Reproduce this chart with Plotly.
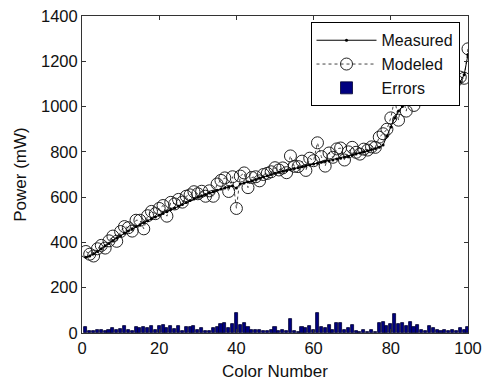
import plotly.graph_objects as go

color_number = list(range(1, 101))

measured = [
    335, 340, 350, 360, 372, 385, 395, 408, 420, 430,
    440, 450, 460, 470, 478, 488, 496, 505, 512, 520,
    528, 536, 545, 552, 560, 568, 576, 585, 592, 600,
    606, 612, 618, 624, 630, 636, 640, 645, 650, 640,
    658, 662, 667, 672, 678, 684, 690, 695, 700, 705,
    710, 714, 718, 722, 726, 730, 734, 738, 742, 746,
    750, 754, 757, 760, 764, 768, 772, 776, 780, 785,
    790, 795, 800, 805, 810, 815, 820, 830, 870, 910,
    950, 980, 1000, 1010, 1020, 1030, 1040, 1050, 1058, 1065,
    1072, 1078, 1084, 1090, 1095, 1100, 1105, 1110, 1140, 1230,
]

modeled = [
    360, 348, 340, 372, 387, 375, 407, 428, 405, 448,
    470, 465, 450, 498, 498, 460, 518, 537, 527, 550,
    563, 516, 577, 570, 590, 578, 604, 610, 624, 615,
    626, 604, 628, 604, 658, 674, 685, 625, 690, 550,
    693, 707, 642, 687, 690, 672, 700, 705, 712, 730,
    720, 729, 708, 782, 736, 735, 759, 718, 772, 761,
    840, 779, 737, 795, 776, 813, 817, 764, 800, 820,
    798, 790, 812, 808, 822, 820, 865, 880, 900, 950,
    1035, 940, 1045, 980, 1070, 1005, 1075, 1065, 1068, 1095,
    1092, 1093, 1094, 1102, 1105, 1112, 1115, 1130, 1125, 1255,
]

errors = [abs(a - b) for a, b in zip(modeled, measured)]

x_ticks = [0, 20, 40, 60, 80, 100]
y_ticks = [0, 200, 400, 600, 800, 1000, 1200, 1400]

font_family = "Liberation Sans, Arial, sans-serif"

fig = go.Figure()

fig.add_trace(go.Bar(
    x=color_number, y=errors, name="Errors",
    marker=dict(color="#000080", line=dict(color="#000030", width=0.8)),
    width=0.8, legendrank=3,
))

fig.add_trace(go.Scatter(
    x=color_number, y=modeled, name="Modeled", mode="lines+markers",
    line=dict(color="#444444", width=1, dash="dot"),
    marker=dict(symbol="circle-open", size=12, color="#222222",
                line=dict(width=1, color="#222222")),
    legendrank=2,
))

fig.add_trace(go.Scatter(
    x=color_number, y=measured, name="Measured", mode="lines+markers",
    line=dict(color="black", width=1),
    marker=dict(symbol="circle", size=3, color="black"),
    legendrank=1,
))

axis_common = dict(
    showline=True, linecolor="#333333", linewidth=1, mirror="allticks",
    ticks="inside", ticklen=4, tickcolor="#333333",
    showgrid=False, zeroline=False, automargin=False,
    tickfont=dict(family=font_family, size=16.5, color="#111111"),
)

fig.update_xaxes(range=[0, 100], tickvals=x_ticks,
                 title=dict(text="Color Number", font=dict(family=font_family, size=17, color="#111111"), standoff=9),
                 **axis_common)
fig.update_yaxes(range=[0, 1400], tickvals=y_ticks,
                 title=dict(text="Power (mW)", font=dict(family=font_family, size=17, color="#111111"), standoff=10),
                 **axis_common)

fig.update_layout(
    width=483, height=384,
    margin=dict(l=82, r=15, t=16, b=51),
    paper_bgcolor="white", plot_bgcolor="white",
    bargap=0,
    showlegend=True,
    legend=dict(
        x=0.978, y=0.98, xanchor="right", yanchor="top",
        bgcolor="white", bordercolor="black", borderwidth=1,
        font=dict(family=font_family, size=16, color="#111111"),
        itemwidth=60, tracegroupgap=0,
    ),
    font=dict(family=font_family),
)

fig.write_html("out.html")
